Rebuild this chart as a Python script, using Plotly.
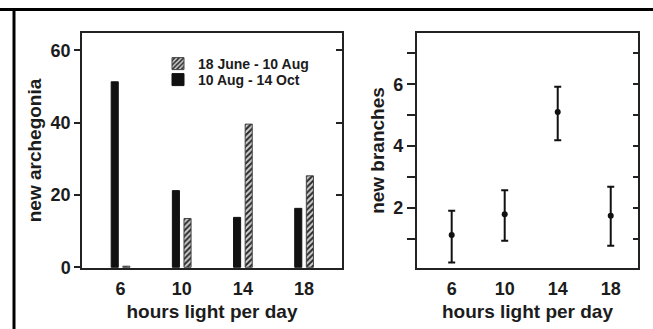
import plotly.graph_objects as go

hours = [6, 10, 14, 18]
tick_labels = ["6", "10", "14", "18"]

# left panel: new archegonia
arch_aug_oct = [51.3, 21.2, 13.8, 16.3]      # 10 Aug - 14 Oct (black)
arch_jun_aug = [0.3, 13.5, 39.6, 25.3]       # 18 June - 10 Aug (hatched)
left_yticks = [0, 20, 40, 60]

# right panel: new branches
branches_mean = [1.12, 1.79, 5.10, 1.74]
branches_err_plus = [0.78, 0.78, 0.82, 0.94]
branches_err_minus = [0.89, 0.86, 0.91, 0.97]
right_yticks = [1, 2, 3, 4, 5, 6, 7]
right_yticktext = ["", "2", "", "4", "", "6", ""]

W, H = 653, 329
FONT = "Arial, Liberation Sans, sans-serif"
TXT = "#1c1c1c"

fig = go.Figure()

fig.add_trace(go.Bar(
    x=hours, y=arch_aug_oct, name="10 Aug - 14 Oct",
    marker=dict(color="#111111", line=dict(color="#111111", width=1)),
    xaxis="x", yaxis="y", legend="legend2",
))
fig.add_trace(go.Bar(
    x=hours, y=arch_jun_aug, name="18 June - 10 Aug",
    marker=dict(color="#d0d0d0", line=dict(color="#444444", width=1),
                pattern=dict(shape="/", size=4, solidity=0.5,
                             fgcolor="#2a2a2a", bgcolor="#d0d0d0")),
    xaxis="x", yaxis="y", legend="legend",
))
# mirror axis carrier (empty)
fig.add_trace(go.Scatter(x=[], y=[], xaxis="x", yaxis="y3", showlegend=False))

fig.add_trace(go.Scatter(
    x=hours, y=branches_mean, mode="markers",
    marker=dict(color="#111111", size=6),
    error_y=dict(type="data", symmetric=False, array=branches_err_plus,
                 arrayminus=branches_err_minus, color="#111111",
                 thickness=2, width=3.5),
    xaxis="x2", yaxis="y2", showlegend=False,
))
fig.add_trace(go.Scatter(x=[], y=[], xaxis="x2", yaxis="y4", showlegend=False))

def px_x(p):
    return p / W

def px_y(p):
    return 1 - p / H

tickfont = dict(family=FONT, size=18, color=TXT, weight="bold")
titlefont = dict(family=FONT, size=19, color=TXT, weight="bold")
legfont = dict(family=FONT, size=14, color=TXT, weight="bold")
axline = dict(showline=True, linecolor="#222222", linewidth=1.5, showgrid=False,
              zeroline=False, automargin=False)

ydom = [px_y(268), px_y(33)]

fig.update_layout(
    template="none",
    width=W, height=H,
    margin=dict(l=0, r=0, t=0, b=0, pad=0, autoexpand=False),
    paper_bgcolor="white", plot_bgcolor="white",
    barmode="group", bargap=0.62, bargroupgap=0.39,
    showlegend=True,
    legend=dict(x=px_x(158), y=px_y(48), xanchor="left", yanchor="top",
                itemwidth=30, font=legfont, bgcolor="rgba(0,0,0,0)"),
    legend2=dict(x=px_x(158), y=px_y(64), xanchor="left", yanchor="top",
                 itemwidth=30, font=legfont, bgcolor="rgba(0,0,0,0)"),
    xaxis=dict(domain=[px_x(82), px_x(342)], range=[3.48, 20.48],
               tickvals=hours, ticktext=tick_labels, ticks="",
               tickfont=tickfont, ticklabelstandoff=4,
               title=dict(text="hours light per day", font=titlefont, standoff=6),
               anchor="y", mirror=True, **axline),
    yaxis=dict(domain=ydom, range=[-0.2, 64.8], tickvals=left_yticks,
               ticks="outside", ticklen=6, tickwidth=1.5, tickcolor="#222222",
               tickfont=tickfont,
               title=dict(text="new archegonia", font=titlefont, standoff=4),
               anchor="x", mirror=True, **axline),
    yaxis3=dict(overlaying="y", side="right", anchor="x", range=[-0.2, 64.8],
                tickvals=left_yticks, showticklabels=False, ticks="inside",
                ticklen=6, tickwidth=1.5, tickcolor="#222222",
                showgrid=False, zeroline=False, showline=False, automargin=False),
    xaxis2=dict(domain=[px_x(416.7), px_x(638.3)], range=[3.36, 20.08],
                tickvals=hours, ticktext=tick_labels, ticks="",
                tickfont=tickfont, ticklabelstandoff=4,
                title=dict(text="hours light per day", font=titlefont, standoff=6),
                anchor="y2", mirror=True, **axline),
    yaxis2=dict(domain=ydom, range=[0.05, 7.66], tickvals=right_yticks,
                ticktext=right_yticktext,
                ticks="outside", ticklen=8, tickwidth=1.5, tickcolor="#222222",
                tickfont=tickfont,
                title=dict(text="new branches", font=titlefont, standoff=4),
                anchor="x2", mirror=True, **axline),
    yaxis4=dict(overlaying="y2", side="right", anchor="x2", range=[0.05, 7.66],
                tickvals=right_yticks, showticklabels=False, ticks="inside",
                ticklen=5, tickwidth=1.5, tickcolor="#222222",
                showgrid=False, zeroline=False, showline=False, automargin=False),
    shapes=[
        dict(type="line", xref="paper", yref="paper", x0=0, x1=1,
             y0=px_y(9.5), y1=px_y(9.5), line=dict(color="black", width=3)),
        dict(type="line", xref="paper", yref="paper", x0=px_x(14), x1=px_x(14),
             y0=0, y1=px_y(9.5), line=dict(color="black", width=3)),
    ],
)

fig.write_html(
    "out.html",
    config={"displayModeBar": False},
    post_script="document.body.style.margin='0';document.body.style.overflow='hidden';",
)
